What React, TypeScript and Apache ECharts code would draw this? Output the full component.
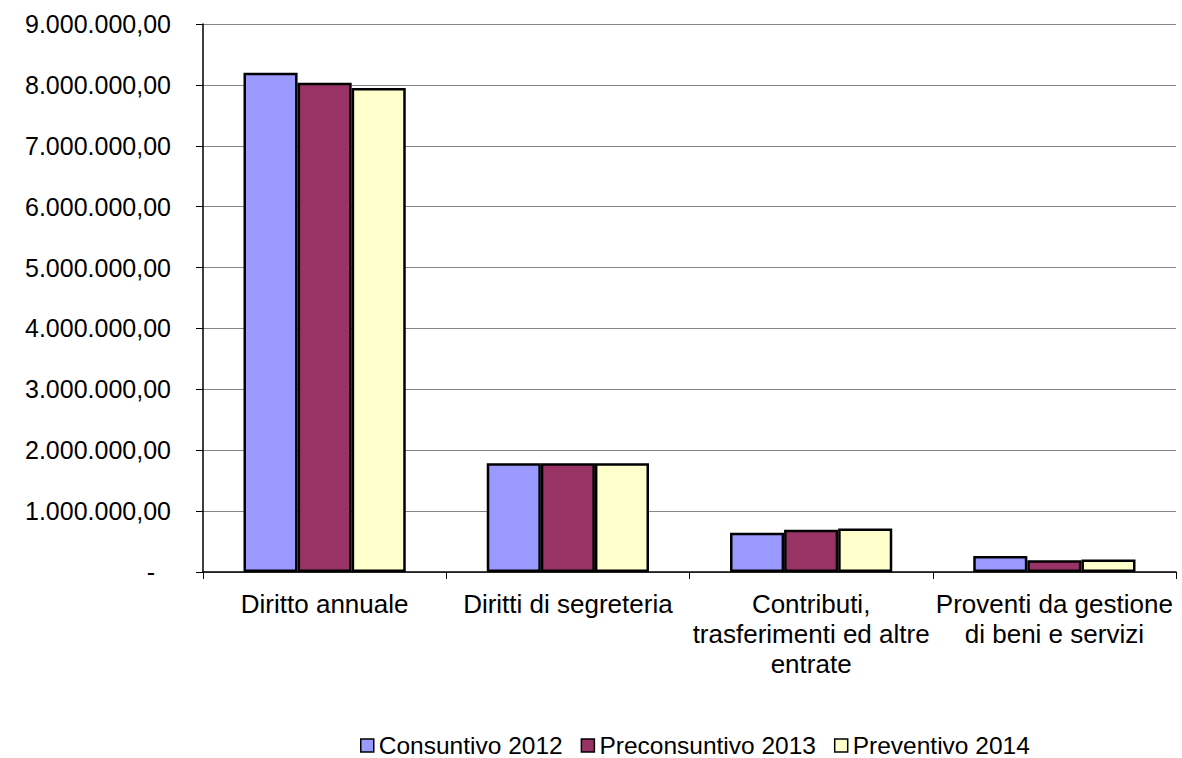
import React, { useEffect, useRef } from "react";
import * as echarts from "echarts";

const categories = [
  "Diritto annuale",
  "Diritti di segreteria",
  "Contributi,\ntrasferimenti ed altre\nentrate",
  "Proventi da gestione\ndi beni e servizi",
];
const seriesNames = ["Consuntivo 2012", "Preconsuntivo 2013", "Preventivo 2014"];
const consuntivo2012 = [8200000, 1785000, 645000, 262000];
const preconsuntivo2013 = [8035000, 1788000, 693000, 191000];
const preventivo2014 = [7950000, 1786000, 714000, 207000];
const colors = ["#9999FF", "#993366", "#FFFFCC"];

function fmt(v: number): string {
  if (v === 0) return "{d|-}";
  const s = Math.round(v).toString().replace(/\B(?=(\d{3})+(?!\d))/g, ".");
  return s + ",00";
}

export default function App() {
  const ref = useRef<HTMLDivElement>(null);
  useEffect(() => {
    if (!ref.current) return;
    const chart = echarts.init(ref.current, undefined, { renderer: "svg" });
    const font = "'Liberation Sans', Arial, Helvetica, sans-serif";
    const data = [consuntivo2012, preconsuntivo2013, preventivo2014];
    chart.setOption({
      animation: false,
      backgroundColor: "#ffffff",
      textStyle: { fontFamily: font },
      grid: { left: 203, right: 6, top: 24, bottom: 186, containLabel: false },
      legend: {
        top: 733,
        left: 360,
        padding: 0,
        itemWidth: 13,
        itemHeight: 13,
        itemGap: 18,
        icon: "rect",
        textStyle: { fontSize: 24.5, lineHeight: 24, color: "#000", fontFamily: font },
        data: seriesNames.map((n) => ({ name: n, itemStyle: { borderColor: "#000", borderWidth: 1.5 } })),
      },
      xAxis: {
        type: "category",
        data: categories,
        axisLine: { lineStyle: { color: "#000", width: 1.5 } },
        axisTick: { show: true, length: 7, interval: 0, lineStyle: { color: "#000" } },
        axisLabel: {
          interval: 0,
          margin: 17,
          fontSize: 26,
          lineHeight: 30,
          color: "#000",
          fontFamily: font,
        },
      },
      yAxis: {
        type: "value",
        min: 0,
        max: 9000000,
        interval: 1000000,
        axisLine: { show: true, lineStyle: { color: "#000", width: 1.5 } },
        axisTick: { show: true, length: 7, lineStyle: { color: "#000" } },
        splitLine: { lineStyle: { color: "#868686", width: 1.2 } },
        axisLabel: {
          margin: 32,
          fontSize: 25,
          color: "#000",
          fontFamily: font,
          formatter: fmt,
          rich: { d: { fontSize: 25, color: "#000", padding: [0, 16, 0, 0], fontFamily: font } },
        },
      },
      series: seriesNames.map((name, i) => ({
        name,
        type: "bar",
        data: data[i],
        barGap: "0%",
        barCategoryGap: "33.3%",
        itemStyle: { color: colors[i], borderColor: "#000", borderWidth: 2.5 },
      })),
    });
    return () => chart.dispose();
  }, []);
  return (
    <div
      ref={ref}
      style={{ position: "absolute", left: 0, top: 0, width: 1182, height: 758 }}
    />
  );
}
